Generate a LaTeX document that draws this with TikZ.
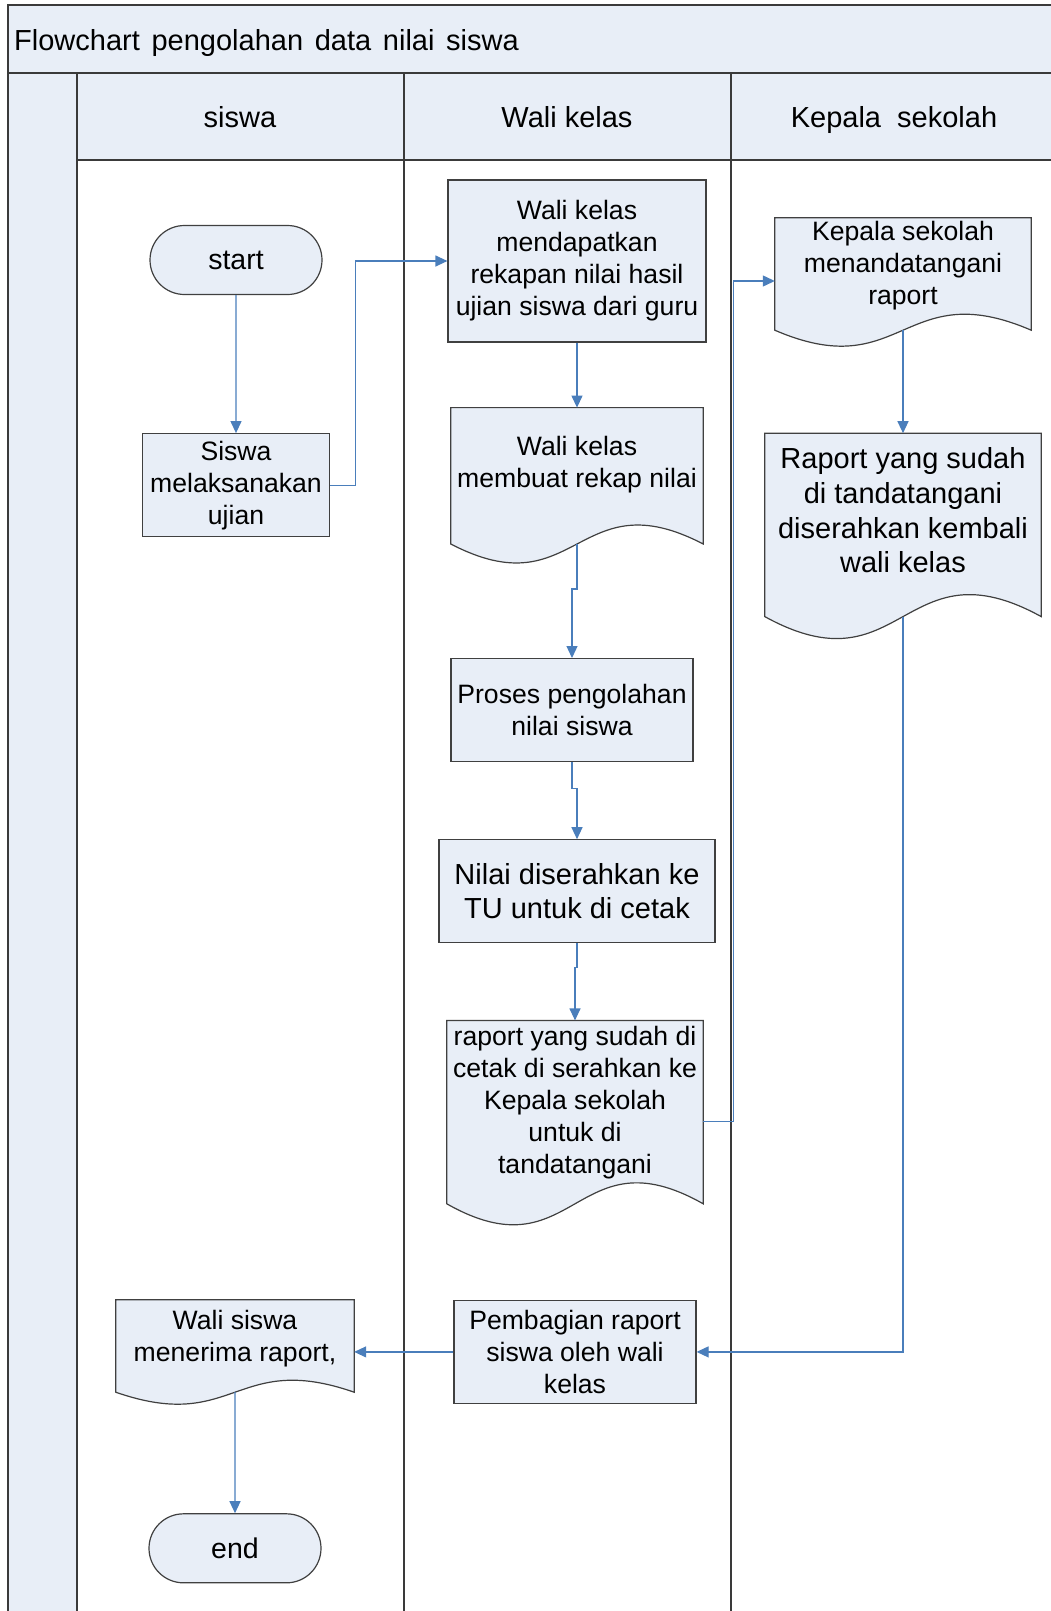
\documentclass[tikz,border=0pt]{standalone}
\usepackage{fontspec}
\setmainfont{Liberation Sans}
\usetikzlibrary{positioning,arrows.meta,shapes.misc,calc,backgrounds}
\definecolor{boxfill}{HTML}{E8EEF7}
\definecolor{boxline}{HTML}{404040}
\definecolor{laneline}{HTML}{3A3A3A}
\definecolor{flowblue}{HTML}{4A7EBB}
% document shape round a text node: node, drop of the sides, height of the wave
\newcommand{\docshape}[3]{%
  \begin{scope}[on background layer]
    \draw[outline] (#1.north west) -- (#1.north east) -- ([yshift=-#2pt]#1.south east)
      .. controls ([yshift={-#2pt+3.46*#3pt}]#1.south) and ([yshift={-#2pt-3.46*#3pt}]#1.south)
      .. ([yshift=-#2pt]#1.south west) -- cycle;
  \end{scope}
  \coordinate (#1-b) at ([yshift=-#2pt]#1.south);}

\begin{document}
\begin{tikzpicture}[x=1pt, y=-1pt, >={Triangle[length=12pt,width=11pt]},
  every node/.style={font=\fontsize{26.6}{32}\selectfont,inner sep=0pt},
  outline/.style={draw=boxline,line width=1.2pt,fill=boxfill},
  box/.style={outline,align=center},
  doc/.style={align=center},
  term/.style={box,rounded rectangle,minimum width=172pt,minimum height=69pt,font=\fontsize{28.5}{34}\selectfont},
  big/.style={font=\fontsize{29}{34.6}\selectfont},
  lane/.style={draw=laneline,line width=1.8pt},
  flow/.style={->,draw=flowblue,line width=1.2pt}]
  \useasboundingbox (0,0) rectangle (1051,1611);
  % swimlanes
  \draw[lane,fill=boxfill] (8,5) rectangle (1070,73);
  \draw[lane,fill=boxfill] (8,73) rectangle (77,1630);
  \draw[lane,fill=boxfill] (77,73) rectangle (1070,160);
  \draw[lane] (404,73) -- (404,1630) (731,73) -- (731,1630);
  \node[big,anchor=base west] (judul) at (14,51) {\spaceskip=11.7pt Flowchart pengolahan data nilai siswa};
  \node[big,anchor=base] (hsiswa) at (240,127) {siswa};
  \node[big,anchor=base] (hwali) at (567,127) {Wali kelas};
  \node[big,anchor=base] (hkepsek) at (894,127) {Kepala\ \ sekolah};
  % siswa
  \node[term] (mulai) at (236,260) {start};
  \node[box,minimum width=187pt,minimum height=103pt,below=138pt of mulai] (ujian) {Siswa\\melaksanakan\\ujian};
  % wali kelas
  \node[box,minimum width=258pt,minimum height=162pt] (dapat) at (577,261) {Wali kelas\\mendapatkan\\rekapan nilai hasil\\ujian siswa dari guru};
  \node[doc,minimum width=252pt,minimum height=114pt,below=65pt of dapat] (rekap) {Wali kelas\\membuat rekap nilai};
  \docshape{rekap}{22}{19}
  \node[box,minimum width=242pt,minimum height=103pt,below=136pt of rekap,xshift=-5pt] (proses) {Proses pengolahan\\nilai siswa};
  \node[box,big,minimum width=276pt,minimum height=103pt,below=77pt of proses,xshift=5pt] (cetak) {Nilai diserahkan ke\\TU untuk di cetak};
  \node[doc,minimum width=256pt,minimum height=159pt,below=77pt of cetak,xshift=-2pt] (rcetak) {\rule{0pt}{24pt}raport yang sudah di\\cetak di serahkan ke\\Kepala sekolah\\untuk di\\tandatangani};
  \docshape{rcetak}{24}{21}
  \node[box,minimum width=242pt,minimum height=103pt,below=120pt of rcetak] (bagi) {Pembagian raport\\siswa oleh wali\\kelas};
  % kepala sekolah
  \node[doc,minimum width=256pt,minimum height=96pt] (ttd) at (903,266) {Kepala sekolah\\menandatangani\\raport};
  \docshape{ttd}{16}{16}
  \node[doc,big,minimum width=276pt,minimum height=154pt,below=119pt of ttd] (kembali) {Raport yang sudah\\di tandatangani\\diserahkan kembali\\wali kelas};
  \docshape{kembali}{29}{22}
  % siswa, akhir
  \node[doc,minimum width=238pt,minimum height=77pt] (terima) at (235,1338.5) {Wali siswa\\menerima raport,};
  \docshape{terima}{15}{12}
  \node[term,below=136pt of terima] (selesai) {end};
  % alur
  \draw[flow] (mulai) -- (ujian);
  \draw[flow] (ujian.east) -- ++(25,0) |- (dapat.west);
  \draw[flow] (dapat) -- (rekap);
  \draw[flow] (rekap-b) -- ++(0,45) -| (proses.north);
  \draw[flow] (proses.south) -- ++(0,26) -| (cetak.north);
  \draw[flow] (cetak.south) -- ++(0,24) -| (rcetak.north);
  \draw[flow] ([yshift=-21pt]rcetak.east) -- ++(30,0) |- ([yshift=-15pt]ttd.west);
  \draw[flow] (ttd-b) -- (kembali);
  \draw[flow] (kembali-b) |- (bagi.east);
  \draw[flow] (bagi.west) -- (bagi.west -| terima.east);
  \draw[flow] (terima-b) -- (selesai);
\end{tikzpicture}
\end{document}
